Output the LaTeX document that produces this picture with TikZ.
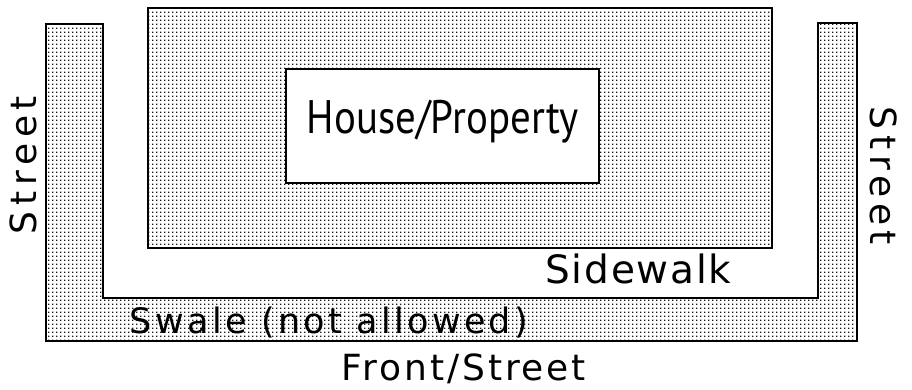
\documentclass[tikz,border=0pt]{standalone}
\usepackage{fontspec}
\setmainfont{DejaVu Sans}
\newfontfamily\streetfont[LetterSpace=16]{DejaVu Sans}
\newfontfamily\sidefont[LetterSpace=4.6]{DejaVu Sans}
\newfontfamily\frontfont[LetterSpace=8]{DejaVu Sans}
\newfontfamily\swalefont[LetterSpace=9.5]{DejaVu Sans}
\newfontfamily\housefont{PT Sans}
\usetikzlibrary{patterns.meta}
\tikzdeclarepattern{
  name=screen,
  type=uncolored,
  bounding box={(0pt,0pt) and (3.7pt,3.7pt)},
  tile size={(3.7pt,3.7pt)},
  code={\pgfpathrectangle{\pgfpointorigin}{\pgfpoint{1.6pt}{1.6pt}}\pgfusepath{fill}}
}
\tikzset{
  area/.style={draw=black, line width=1.5pt, pattern=screen, pattern color=black!90},
  housebox/.style={draw=black, line width=1.5pt, fill=white},
  lbl/.style={inner sep=0pt, text=black},
}
\begin{document}
\begin{tikzpicture}[x=1pt,y=-1pt]
\useasboundingbox (0,0) rectangle (912,389);
\fill[white] (0,0) rectangle (912,389);
% swale / street U-shape
\path[area] (46,24) -- (46,341) -- (857,341) -- (857,23) -- (818,23) -- (818,298) -- (103,298) -- (103,24) -- cycle;
% property
\path[area] (148,8) rectangle (772,248);
% house
\node[housebox, minimum width=313pt, minimum height=114pt, inner sep=0pt] (house) at (442.5,126) {};
\node[lbl, font=\housefont\fontsize{47}{54}\selectfont, anchor=base] (houselbl) at (443,133) {\scalebox{0.87}[1]{House/Property}};
\node[lbl, font=\sidefont\fontsize{39}{44}\selectfont, anchor=base] (side) at (638.5,283) {Sidewalk};
\node[lbl, font=\swalefont\fontsize{35}{40}\selectfont, anchor=base] (swale) at (329,333) {Swale (not allowed)};
\node[lbl, font=\frontfont\fontsize{36}{44}\selectfont, anchor=base] (front) at (464,380) {Front/Street};
\node[lbl, font=\streetfont\fontsize{36}{40}\selectfont, rotate=90, anchor=base] (streetl) at (36,165) {Street};
\node[lbl, font=\streetfont\fontsize{36}{40}\selectfont, rotate=-90, anchor=base] (streetr) at (870,176) {Street};
\end{tikzpicture}
\end{document}
